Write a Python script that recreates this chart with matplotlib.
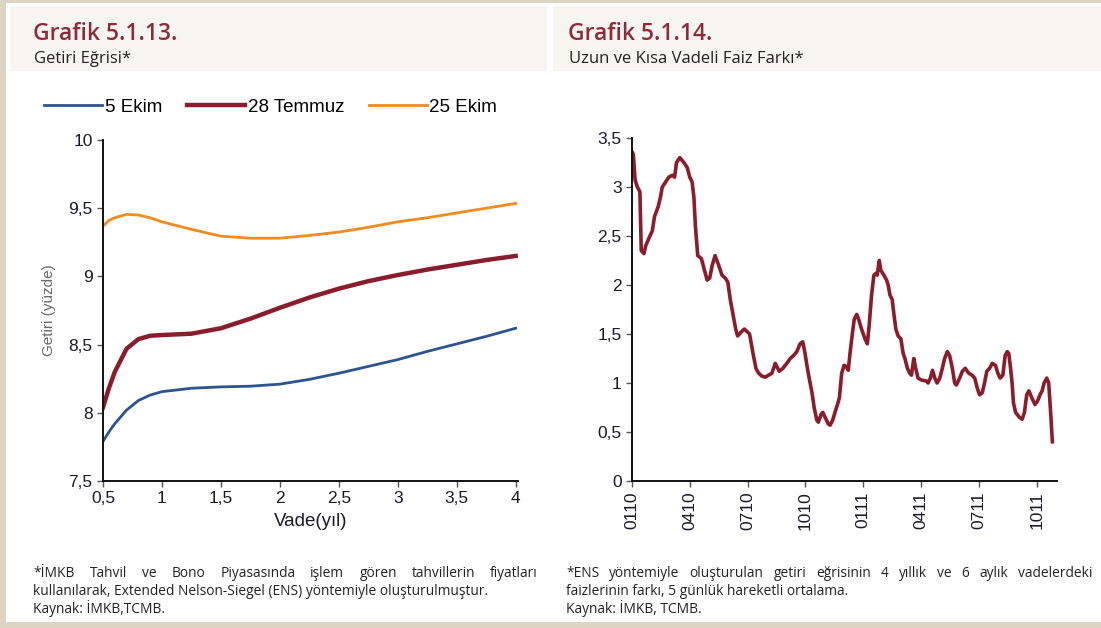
import matplotlib
matplotlib.use("Agg")
import matplotlib.pyplot as plt
from matplotlib.patches import Rectangle

# --- data: Grafik 5.1.13 (yield curves) ---
maturity = [0.5, 0.55, 0.6, 0.7, 0.8, 0.9, 1.0, 1.25, 1.5, 1.75, 2.0, 2.25, 2.5, 2.75, 3.0, 3.25, 3.5, 3.75, 4.0]
ekim5 = [7.79, 7.86, 7.92, 8.02, 8.09, 8.13, 8.155, 8.18, 8.19, 8.195, 8.21, 8.245, 8.29, 8.34, 8.39, 8.45, 8.505, 8.56, 8.62]
temmuz28 = [8.04, 8.18, 8.30, 8.47, 8.54, 8.565, 8.57, 8.58, 8.62, 8.69, 8.77, 8.845, 8.91, 8.965, 9.01, 9.05, 9.085, 9.12, 9.15]
ekim25 = [9.37, 9.41, 9.43, 9.455, 9.45, 9.43, 9.40, 9.345, 9.295, 9.28, 9.28, 9.30, 9.325, 9.36, 9.40, 9.43, 9.465, 9.50, 9.535]
series_names = ["5 Ekim", "28 Temmuz", "25 Ekim"]

# --- data: Grafik 5.1.14 (spread, months since Jan 2010) ---
months = [0.03, 0.07, 0.16, 0.28, 0.41, 0.48, 0.62, 0.71, 0.93, 1.05, 1.17, 1.36, 1.48, 1.57, 1.74, 1.91,
          2.09, 2.21, 2.31, 2.48, 2.69, 2.86, 3.0, 3.12, 3.21, 3.29, 3.41, 3.6, 3.76, 3.9, 4.03, 4.16,
          4.31, 4.5, 4.67, 4.84, 4.97, 5.1, 5.24, 5.38, 5.48, 5.66, 5.83, 6.0, 6.1, 6.28, 6.43, 6.57,
          6.74, 6.91, 7.09, 7.26, 7.43, 7.64, 7.83, 8.03, 8.21, 8.38, 8.55, 8.72, 8.86, 8.98, 9.1, 9.24,
          9.34, 9.45, 9.59, 9.67, 9.81, 9.9, 10.02, 10.19, 10.28, 10.41, 10.53, 10.66, 10.76, 10.88, 11.0,
          11.1, 11.22, 11.31, 11.43, 11.53, 11.66, 11.76, 11.91, 12.09, 12.21, 12.31, 12.43, 12.55, 12.66,
          12.72, 12.83, 12.91, 13.07, 13.21, 13.29, 13.38, 13.5, 13.59, 13.69, 13.81, 13.95, 14.07, 14.16,
          14.29, 14.41, 14.5, 14.62, 14.72, 14.84, 15.02, 15.28, 15.36, 15.48, 15.59, 15.71, 15.83, 15.97,
          16.1, 16.22, 16.36, 16.48, 16.62, 16.74, 16.83, 17.0, 17.14, 17.29, 17.47, 17.64, 17.78, 17.91,
          18.03, 18.17, 18.29, 18.41, 18.55, 18.69, 18.86, 18.98, 19.1, 19.24, 19.36, 19.47, 19.55, 19.64,
          19.72, 19.79, 19.9, 20.1, 20.24, 20.36, 20.48, 20.59, 20.74, 20.91, 21.05, 21.17, 21.28, 21.38,
          21.52, 21.62, 21.72, 21.81]
spread = [3.35, 3.33, 3.07, 3.0, 2.95, 2.35, 2.32, 2.4, 2.5, 2.55, 2.7, 2.8, 2.9, 3.0, 3.05, 3.1,
          3.12, 3.1, 3.25, 3.3, 3.25, 3.2, 3.1, 3.05, 2.9, 2.6, 2.3, 2.27, 2.15, 2.05, 2.07, 2.2,
          2.3, 2.2, 2.1, 2.07, 2.03, 1.85, 1.7, 1.55, 1.48, 1.52, 1.55, 1.52, 1.5, 1.3, 1.15, 1.1,
          1.07, 1.06, 1.08, 1.1, 1.2, 1.12, 1.15, 1.2, 1.25, 1.28, 1.32, 1.4, 1.42, 1.3, 1.15, 1.0,
          0.9, 0.75, 0.62, 0.6, 0.68, 0.7, 0.65, 0.58, 0.57, 0.62, 0.7, 0.78, 0.85, 1.1, 1.18,
          1.17, 1.13, 1.3, 1.5, 1.65, 1.7, 1.65, 1.55, 1.45, 1.4, 1.6, 1.9, 2.1, 2.12,
          2.1, 2.25, 2.15, 2.1, 2.05, 2.0, 1.9, 1.85, 1.7, 1.55, 1.48, 1.45, 1.3, 1.25,
          1.15, 1.1, 1.08, 1.25, 1.15, 1.05, 1.03, 1.02, 1.0, 1.05, 1.13, 1.05, 1.0, 1.05,
          1.15, 1.25, 1.32, 1.28, 1.15, 1.0, 0.98, 1.05, 1.12, 1.15, 1.1, 1.08, 1.05, 0.95,
          0.88, 0.9, 1.0, 1.12, 1.15, 1.2, 1.18, 1.1, 1.05, 1.08, 1.28, 1.32, 1.3, 1.15,
          1.0, 0.8, 0.7, 0.65, 0.63, 0.7, 0.88, 0.92, 0.85, 0.78, 0.82, 0.88, 0.92, 1.0,
          1.05, 1.0, 0.7, 0.4]
month_ticks = [0, 3, 6, 9, 12, 15, 18, 21]
month_labels = ["0110", "0410", "0710", "1010", "0111", "0411", "0711", "1011"]

BLUE = "#2b5590"
RED = "#8b1c2c"
ORANGE = "#f28a1e"
TITLE = "#8e2a3a"
HEAD_FONT = ["Open Sans", "DejaVu Sans"]
AX_FONT = ["Liberation Sans", "DejaVu Sans"]

fig = plt.figure(figsize=(11.01, 6.28), dpi=100)
W, H = 1101, 628

def px_rect(x0, y0, x1, y1, color):
    fig.patches.append(Rectangle((x0 / W, 1 - y1 / H), (x1 - x0) / W, (y1 - y0) / H,
                                 transform=fig.transFigure, color=color, zorder=0, lw=0))

# frame and header bands
BEIGE = "#ddd4c3"
px_rect(0, 0, W, 3, BEIGE)
px_rect(0, 0, 6, H, BEIGE)
px_rect(0, 622, W, H, BEIGE)
px_rect(10, 6, 547, 71, "#f7f5f0")
px_rect(553, 6, W, 71, "#f7f5f0")

def ftext(x, y, s, **kw):
    return fig.text(x / W, 1 - y / H, s, **kw)

ftext(33, 40, "Grafik 5.1.13.", fontsize=16.5, color=TITLE, family=HEAD_FONT, weight="semibold")
ftext(34, 63, "Getiri Eğrisi*", fontsize=12, color="#222222", family=HEAD_FONT)
ftext(568, 40, "Grafik 5.1.14.", fontsize=16.5, color=TITLE, family=HEAD_FONT, weight="semibold")
ftext(569, 63, "Uzun ve Kısa Vadeli Faiz Farkı*", fontsize=12, color="#222222", family=HEAD_FONT)

renderer = fig.canvas.get_renderer()

def justified(line, x0, x1, y, **kw):
    words = line.split()
    texts = [ftext(0, y, w, **kw) for w in words]
    widths = [t.get_window_extent(renderer).width for t in texts]
    gap = ((x1 - x0) - sum(widths)) / (len(words) - 1)
    x = x0
    for t, w in zip(texts, widths):
        t.set_x(x / W)
        x += w + gap

note_kw = dict(fontsize=9.9, color="#222222", family=HEAD_FONT)
justified("*İMKB Tahvil ve Bono Piyasasında işlem gören tahvillerin fiyatları", 33, 538, 577, **note_kw)
ftext(33, 595, "kullanılarak, Extended Nelson-Siegel (ENS) yöntemiyle oluşturulmuştur.", **note_kw)
ftext(33, 613, "Kaynak: İMKB,TCMB.", **note_kw)
justified("*ENS yöntemiyle oluşturulan getiri eğrisinin 4 yıllık ve 6 aylık vadelerdeki", 566, 1092, 577, **note_kw)
ftext(566, 595, "faizlerinin farkı, 5 günlük hareketli ortalama.", **note_kw)
ftext(566, 613, "Kaynak: İMKB, TCMB.", **note_kw)

def style_axes(ax):
    for s in ["top", "right"]:
        ax.spines[s].set_visible(False)
    for s in ["left", "bottom"]:
        ax.spines[s].set_linewidth(1.4)
        ax.spines[s].set_color("#111111")
    ax.tick_params(direction="out", length=4, width=1, color="#555555",
                   labelsize=12.5, labelcolor="#1a1a2a")
    for lab in ax.get_xticklabels() + ax.get_yticklabels():
        lab.set_family(AX_FONT)

def comma(v):
    s = ("%g" % v)
    return s.replace(".", ",")

# left chart
ax1 = fig.add_axes([103 / W, 1 - 481 / H, (518 - 103) / W, (481 - 140) / H])
l1, = ax1.plot(maturity, ekim5, color=BLUE, lw=2.0)
l2, = ax1.plot(maturity, temmuz28, color=RED, lw=3.2)
l3, = ax1.plot(maturity, ekim25, color=ORANGE, lw=2.0)
ax1.set_xlim(0.5, 4.02)
ax1.set_ylim(7.5, 10)
xt = [0.5, 1, 1.5, 2, 2.5, 3, 3.5, 4]
yt = [7.5, 8, 8.5, 9, 9.5, 10]
ax1.set_xticks(xt)
ax1.set_xticklabels([comma(v) for v in xt])
ax1.set_yticks(yt)
ax1.set_yticklabels([comma(v) for v in yt])
style_axes(ax1)
ax1.set_xlabel("Vade(yıl)", fontsize=13.5, family=AX_FONT, color="#1a1a2a", labelpad=5)
ax1.set_ylabel("Getiri (yüzde)", fontsize=11, family=AX_FONT, color="#6a6a6a", labelpad=9)
fig.legend([l1, l2, l3], series_names, loc="center left", bbox_to_anchor=(31 / W, 1 - 107 / H),
           ncol=3, frameon=False, handlelength=3.1, handletextpad=0.15, columnspacing=1.3,
           borderpad=0.2, prop={"family": AX_FONT, "size": 13.5})

# right chart
ax2 = fig.add_axes([632 / W, 1 - 481 / H, (1057 - 632) / W, (481 - 138) / H])
ax2.plot(months, spread, color=RED, lw=2.6)
ax2.set_xlim(0, 22.05)
ax2.set_ylim(0, 3.5)
y2 = [0, 0.5, 1, 1.5, 2, 2.5, 3, 3.5]
ax2.set_yticks(y2)
ax2.set_yticklabels([comma(v) for v in y2])
ax2.set_xticks(month_ticks)
ax2.set_xticklabels(month_labels, rotation=90)
style_axes(ax2)

fig.savefig("out.png", dpi=100)
